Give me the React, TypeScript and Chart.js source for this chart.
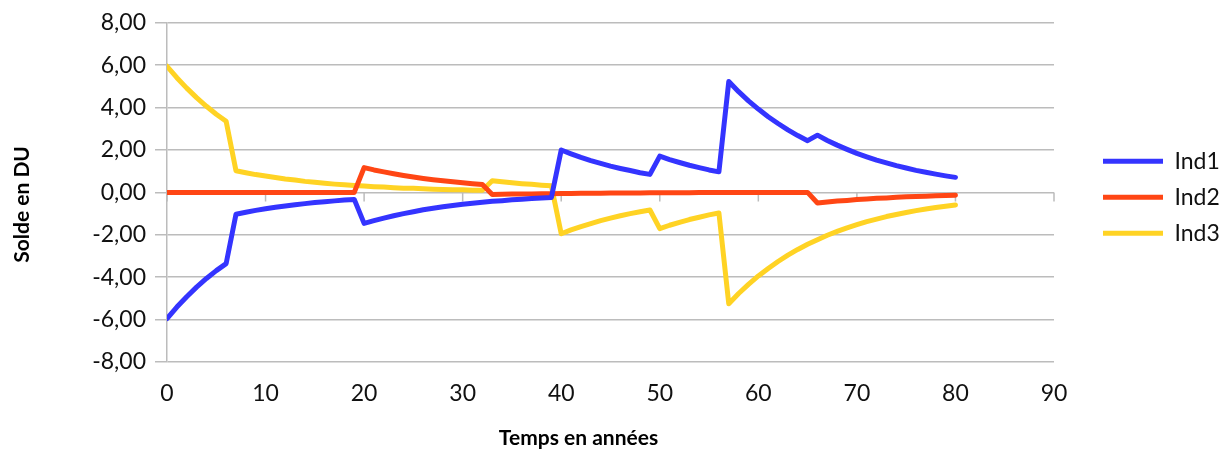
import { useEffect, useRef } from 'react';
import { Chart, registerables } from 'chart.js';

Chart.register(...registerables);

// Time axis (years)
const years = [
  0, 1, 2, 3, 4, 5, 6, 7, 8, 9, 10, 11, 12, 13, 14, 15, 16, 17, 18, 19, 20,
  21, 22, 23, 24, 25, 26, 27, 28, 29, 30, 31, 32, 33, 34, 35, 36, 37, 38, 39, 40,
  41, 42, 43, 44, 45, 46, 47, 48, 49, 50, 51, 52, 53, 54, 55, 56, 57, 58, 59, 60,
  61, 62, 63, 64, 65, 66, 67, 68, 69, 70, 71, 72, 73, 74, 75, 76, 77, 78, 79, 80,
];

// Balance of each individual, in DU
const ind1 = [
  -5.95, -5.41, -4.92, -4.47, -4.06, -3.69, -3.36,
  -1.03, -0.94, -0.85, -0.77, -0.70, -0.64, -0.58, -0.53, -0.48, -0.44, -0.40, -0.36, -0.33,
  -1.46, -1.33, -1.21, -1.10, -1.00, -0.91, -0.82, -0.75, -0.68, -0.62,
  -0.56, -0.51, -0.47, -0.42, -0.39, -0.35, -0.32, -0.29, -0.26, -0.24,
  2.00, 1.82, 1.65, 1.50, 1.37, 1.24, 1.13, 1.03, 0.93, 0.85,
  1.71, 1.55, 1.41, 1.28, 1.17, 1.06, 0.97,
  5.23, 4.75, 4.32, 3.93, 3.57, 3.25, 2.95, 2.68, 2.44,
  2.70, 2.45, 2.23, 2.03, 1.84, 1.68, 1.52, 1.39, 1.26, 1.15, 1.04, 0.95, 0.86, 0.78, 0.71,
];

const ind2 = [
  0, 0, 0, 0, 0, 0, 0, 0, 0, 0, 0, 0, 0, 0, 0, 0, 0, 0, 0, 0,
  1.17, 1.06, 0.97, 0.88, 0.80, 0.73, 0.66, 0.60, 0.55, 0.50, 0.45, 0.41, 0.37,
  -0.10, -0.09, -0.08, -0.08, -0.07, -0.06, -0.06, -0.05, -0.05, -0.04, -0.04,
  -0.04, -0.03, -0.03, -0.03, -0.03, -0.02, -0.02, -0.02, -0.02, -0.02, -0.01,
  -0.01, -0.01, -0.01, -0.01, -0.01, -0.01, -0.01, -0.01, -0.01, 0.00, 0.00,
  -0.50, -0.45, -0.41, -0.38, -0.34, -0.31, -0.28, -0.26, -0.23, -0.21, -0.19, -0.18, -0.16, -0.15, -0.13,
];

const ind3 = [
  5.95, 5.41, 4.92, 4.47, 4.06, 3.69, 3.36,
  1.02, 0.93, 0.84, 0.77, 0.70, 0.63, 0.58, 0.52, 0.48, 0.43, 0.39, 0.36, 0.33,
  0.30, 0.27, 0.25, 0.22, 0.20, 0.19, 0.17, 0.15, 0.14, 0.13, 0.12, 0.10, 0.10,
  0.55, 0.50, 0.45, 0.41, 0.38, 0.34, 0.31,
  -1.95, -1.77, -1.61, -1.47, -1.33, -1.21, -1.10, -1.00, -0.91, -0.83,
  -1.71, -1.55, -1.41, -1.28, -1.17, -1.06, -0.97,
  -5.25, -4.77, -4.34, -3.94, -3.59, -3.26, -2.96, -2.69, -2.45, -2.23, -2.02,
  -1.84, -1.67, -1.52, -1.38, -1.26, -1.14, -1.04, -0.95, -0.86, -0.78, -0.71, -0.65, -0.59,
];

const seriesNames = ['Ind1', 'Ind2', 'Ind3'];
const seriesColors = ['#3434FF', '#FF4614', '#FFD324'];

const xTitle = 'Temps en années';
const yTitle = 'Solde en DU';

const gridColor = '#bcbcbc';
const textColor = '#111111';
const fontFamily = 'Lato, "Open Sans", sans-serif';

// Small tick marks hanging below the horizontal axis, which crosses at 0
const zeroAxisTicks = {
  id: 'zeroAxisTicks',
  beforeDatasetsDraw(chart: any) {
    const { ctx, scales } = chart;
    const xs = scales.x;
    const y0 = scales.y.getPixelForValue(0);
    ctx.save();
    ctx.strokeStyle = gridColor;
    ctx.lineWidth = 1.5;
    ctx.beginPath();
    xs.ticks.forEach((t: any) => {
      const px = xs.getPixelForValue(t.value);
      ctx.moveTo(px, y0);
      ctx.lineTo(px, y0 + 9);
    });
    ctx.stroke();
    ctx.restore();
  },
};

// Axis titles
const axisTitles = {
  id: 'axisTitles',
  afterDraw(chart: any) {
    const { ctx, chartArea } = chart;
    ctx.save();
    ctx.fillStyle = '#000000';
    ctx.font = `bold 21px ${fontFamily}`;
    ctx.textAlign = 'center';
    ctx.textBaseline = 'alphabetic';
    const cx = (chartArea.left + chartArea.right) / 2 - 32;
    ctx.fillText(xTitle, cx, chart.height - 12);
    const cy = (chartArea.top + chartArea.bottom) / 2 + 12;
    ctx.translate(29, cy);
    ctx.rotate(-Math.PI / 2);
    ctx.fillText(yTitle, 0, 0);
    ctx.restore();
  },
};

export default function App() {
  const canvasRef = useRef<HTMLCanvasElement | null>(null);

  useEffect(() => {
    if (!canvasRef.current) return;
    const seriesValues = [ind1, ind2, ind3];
    const chart = new Chart(canvasRef.current, {
      type: 'line',
      data: {
        datasets: seriesValues.map((vals, i) => ({
          label: seriesNames[i],
          data: years.map((yr, k) => ({ x: yr, y: vals[k] })),
          borderColor: seriesColors[i],
          backgroundColor: seriesColors[i],
          borderWidth: 5,
          pointRadius: 0,
          pointHoverRadius: 0,
          tension: 0,
          fill: false,
          borderJoinStyle: 'round' as const,
          borderCapStyle: 'round' as const,
        })),
      },
      options: {
        animation: false,
        responsive: true,
        maintainAspectRatio: false,
        layout: { padding: { top: 20, right: 12, bottom: 0, left: 0 } },
        plugins: {
          tooltip: { enabled: false },
          legend: {
            position: 'right',
            fullSize: false,
            maxWidth: 130,
            title: { display: true, text: '', font: { size: 8 }, padding: 0 },
            labels: {
              usePointStyle: true,
              pointStyle: 'line',
              pointStyleWidth: 60,
              padding: 13,
              color: textColor,
              font: { family: fontFamily, size: 23 },
            },
          },
        },
        scales: {
          x: {
            type: 'linear',
            min: 0,
            max: 90,
            grid: { display: false, drawTicks: false, tickLength: 0 },
            border: { display: false },
            ticks: {
              stepSize: 10,
              autoSkip: false,
              maxRotation: 0,
              padding: 18,
              color: textColor,
              font: { family: fontFamily, size: 23 },
            },
            afterFit(scale: any) {
              scale.height = 95;
            },
          },
          y: {
            type: 'linear',
            min: -8,
            max: 8,
            grid: { color: gridColor, lineWidth: 1.5, drawTicks: true, tickLength: 12 },
            border: { display: true, color: gridColor, width: 1.5 },
            ticks: {
              stepSize: 2,
              padding: 9,
              color: textColor,
              font: { family: fontFamily, size: 23 },
              callback: (v: any) => Number(v).toFixed(2).replace('.', ','),
            },
            afterFit(scale: any) {
              scale.width = 167;
            },
          },
          gap: {
            type: 'linear',
            position: 'right',
            min: 0,
            max: 1,
            grid: { display: false },
            border: { display: false },
            ticks: { display: false },
            afterFit(scale: any) {
              scale.width = 36;
            },
          },
        },
      },
      plugins: [zeroAxisTicks, axisTitles],
    });
    return () => chart.destroy();
  }, []);

  return (
    <div style={{ position: 'fixed', left: 0, top: 0, width: 1232, height: 457, background: '#ffffff' }}>
      <canvas ref={canvasRef} />
    </div>
  );
}
